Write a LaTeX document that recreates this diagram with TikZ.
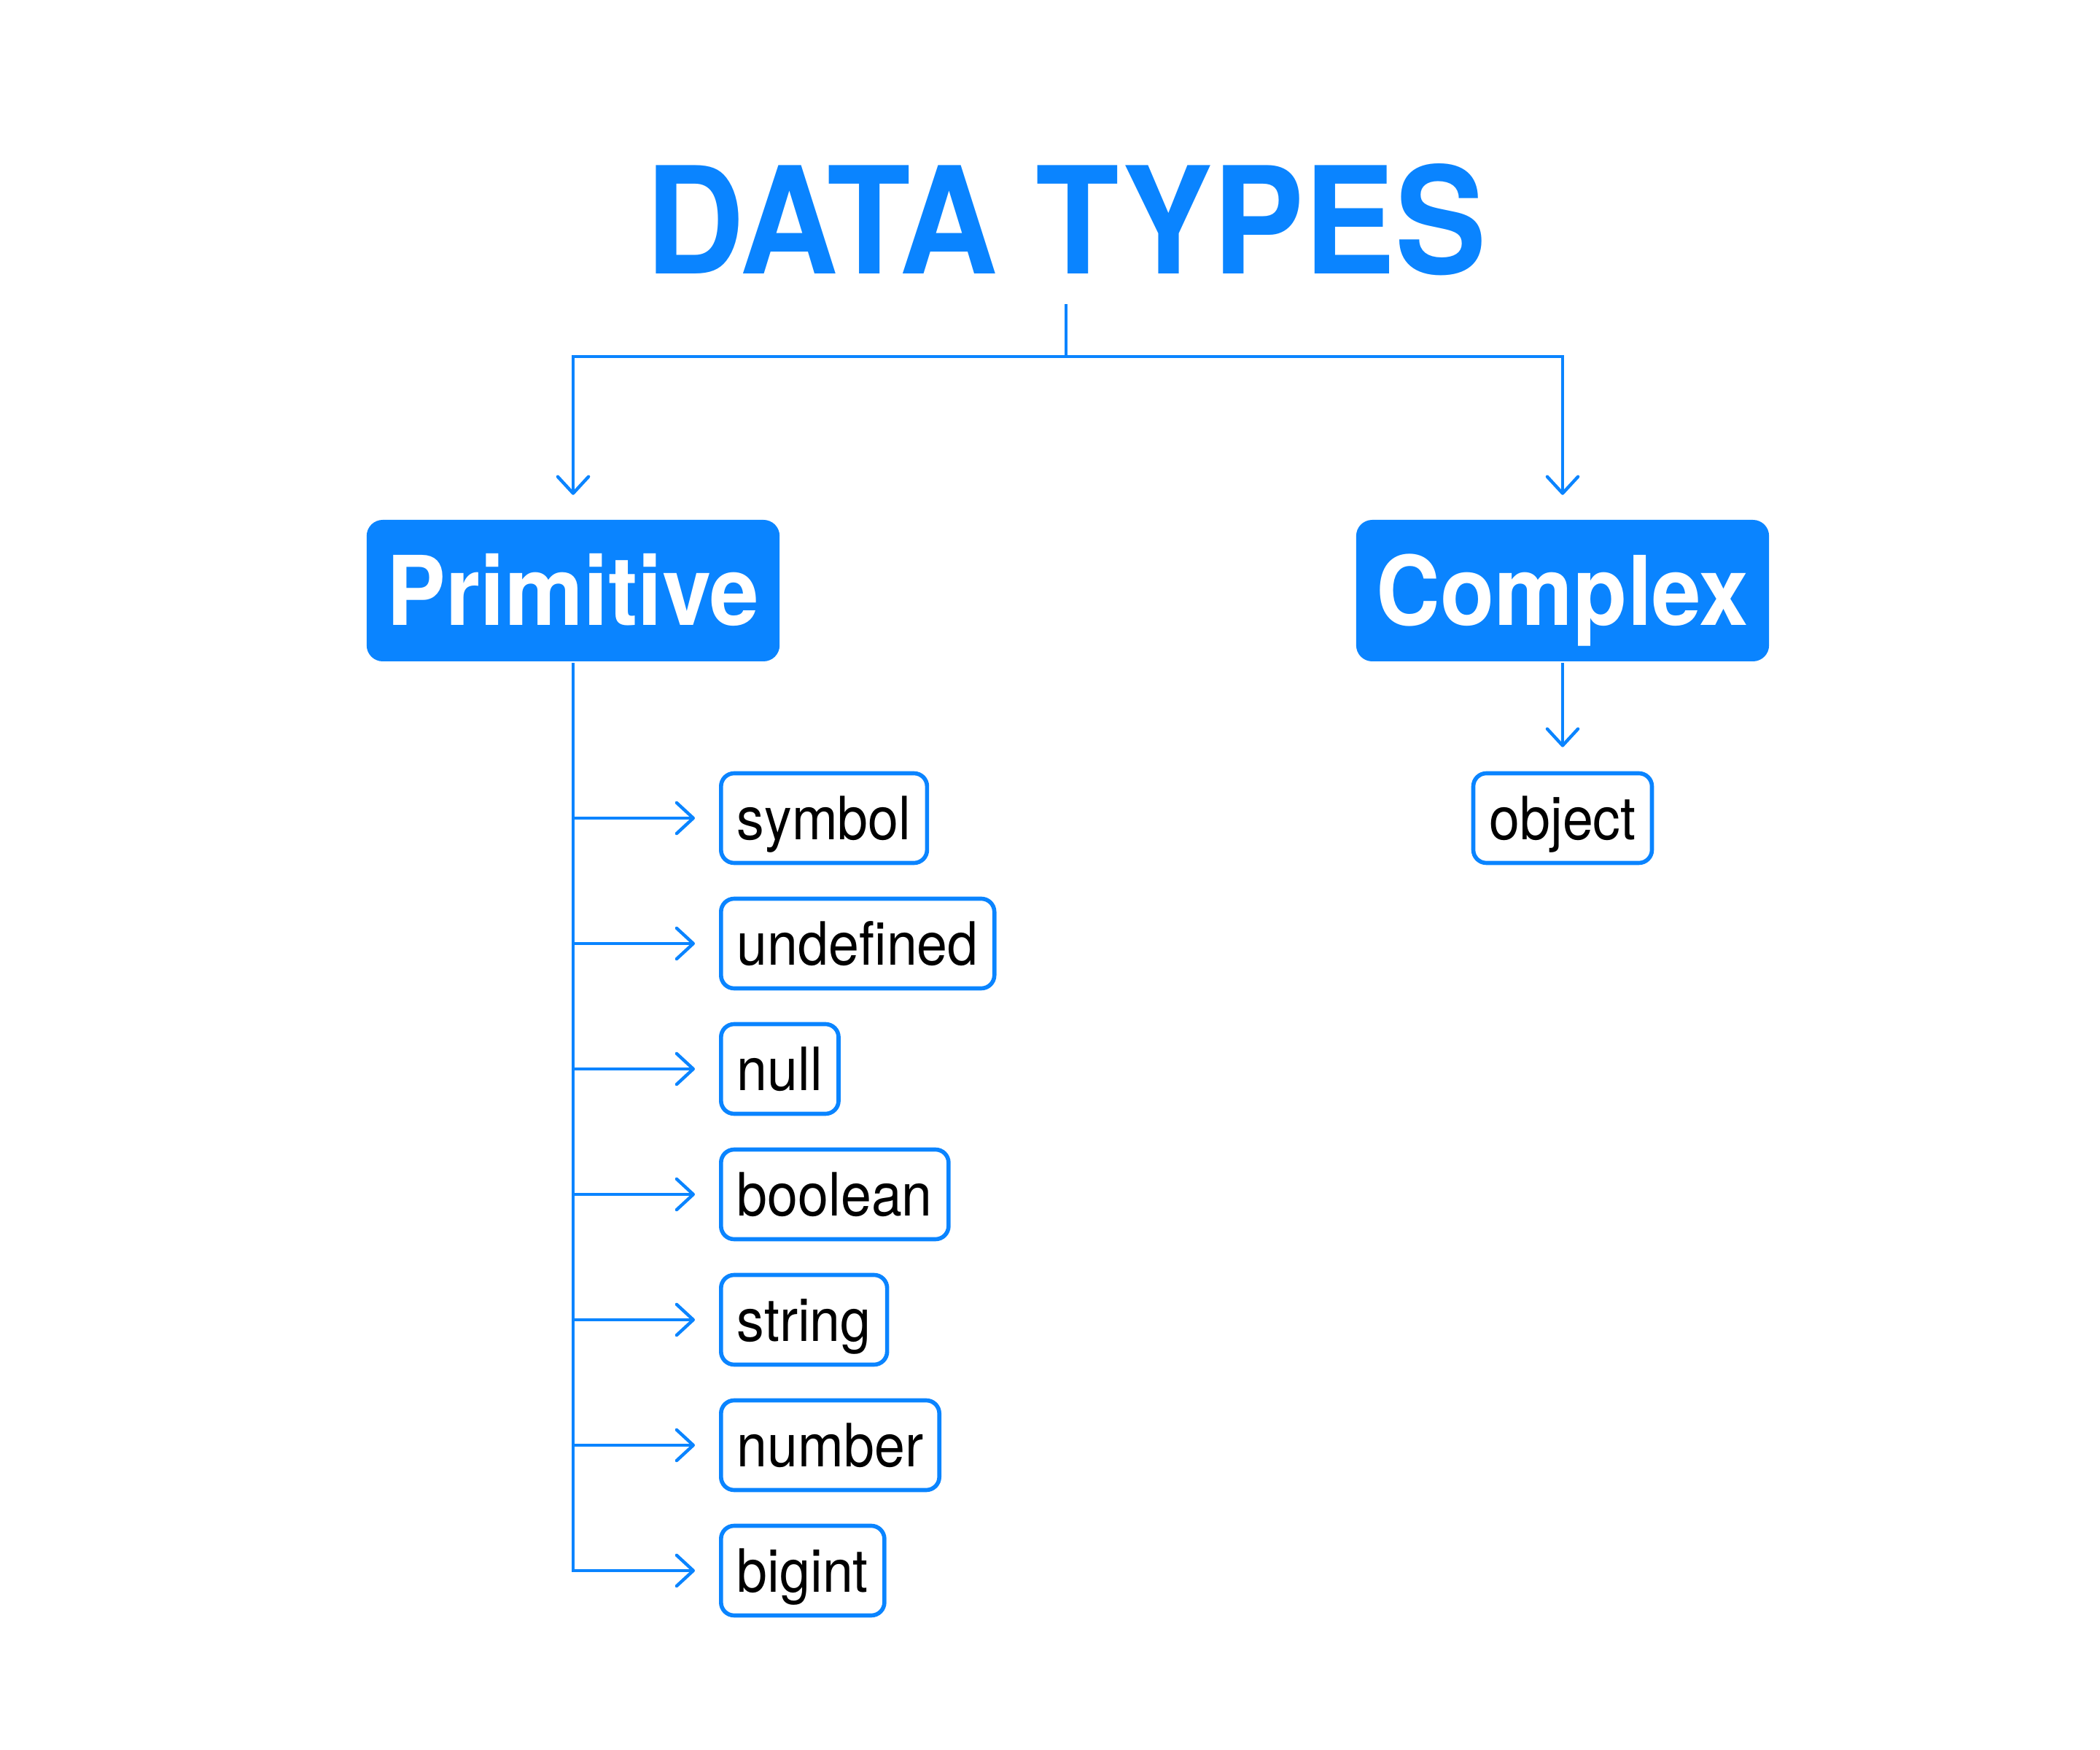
\documentclass[tikz,border=0pt]{standalone}
\usepackage{fontspec}
\setmainfont{TeX Gyre Heros}[FakeStretch=0.92]
\usetikzlibrary{arrows.meta, positioning}
\definecolor{typeblue}{RGB}{10,132,255}

\begin{document}
\begin{tikzpicture}[line width=1.25pt, >={Straight Barb[length=6.5pt, width=12pt, round]}]
  \tikzstyle{kind} = [rectangle, rounded corners=0.22cm, fill=typeblue, text=white, font=\fontsize{37.5}{40}\selectfont\bfseries, minimum height=1.94cm, inner xsep=0.28cm, text height=27pt, text depth=0pt]
  \tikzstyle{leaf} = [rectangle, rounded corners=0.18cm, draw=typeblue, line width=1.6pt, font=\fontsize{23.3}{26}\selectfont, minimum height=1.23cm, inner xsep=0.22cm, text height=16.8pt, text depth=0pt, anchor=west]
  \tikzstyle{link} = [draw=typeblue, ->, shorten >=0.33cm]

  \useasboundingbox (0,0) rectangle (28.8,-24);

  \node[font=\fontsize{58}{60}\selectfont\bfseries, text=typeblue, inner sep=0pt, text depth=0pt, anchor=base] (title) at (14.62,-3.76) {DATA TYPES};
  \coordinate (split) at (14.62,-4.89);

  \node[kind] (prim) at (7.86,-8.10) {Primitive};
  \node[kind] (cplx) at (21.43,-8.10) {Complex};

  \node[leaf] (symbol) at (9.86,-11.22) {symbol};
  \node[leaf, below=1.72cm of symbol.west, anchor=west] (undef) {undefined};
  \node[leaf, below=1.72cm of undef.west, anchor=west] (null) {null};
  \node[leaf, below=1.72cm of null.west, anchor=west] (bool) {boolean};
  \node[leaf, below=1.72cm of bool.west, anchor=west] (string) {string};
  \node[leaf, below=1.72cm of string.west, anchor=west] (number) {number};
  \node[leaf, below=1.72cm of number.west, anchor=west] (bigint) {bigint};

  \node[leaf, anchor=center] (object) at (21.43,-11.22) {object};

  \draw[typeblue, shorten <=0.39cm] (title.south) -- (split);
  \draw[link, shorten >=0.32cm] (split) -| (prim);
  \draw[link, shorten >=0.32cm] (split) -| (cplx);
  \draw[link] (cplx) -- (object);
  \draw[link] (prim) |- (symbol);
  \draw[link] (prim) |- (undef);
  \draw[link] (prim) |- (null);
  \draw[link] (prim) |- (bool);
  \draw[link] (prim) |- (string);
  \draw[link] (prim) |- (number);
  \draw[link] (prim) |- (bigint);
\end{tikzpicture}
\end{document}
